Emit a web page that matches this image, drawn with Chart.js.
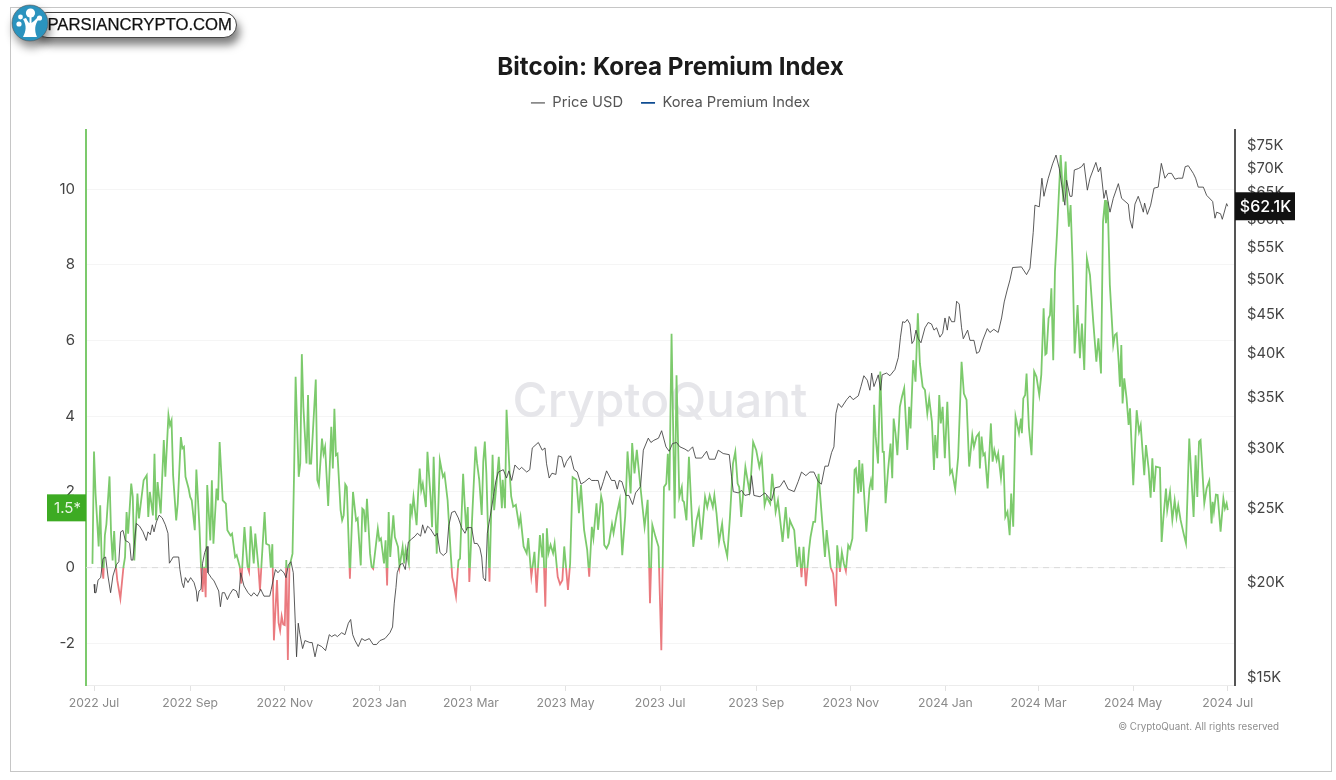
<!DOCTYPE html>
<html>
<head>
<meta charset="utf-8">
<title>Bitcoin: Korea Premium Index</title>
<script src="https://cdn.jsdelivr.net/npm/chart.js@4"></script>
<style>
  html, body { margin: 0; padding: 0; background: #fff; }
  #frame { position: absolute; left: 10px; top: 7px; width: 1320px; height: 763px; border: 1.5px solid #c6c6c6; }
  #chart { position: absolute; left: 0; top: 0; filter: blur(0.3px); }
  #logoPill {
    position: absolute; left: 34px; top: 12px; width: 197px; height: 24px;
    background: #fff; border: 1px solid #444; border-radius: 13px;
    box-shadow: 3px 7px 9px rgba(0,0,0,.5);
    font: 16.7px "Liberation Sans", Arial, sans-serif; color: #111; line-height: 24px;
    -webkit-text-stroke: 0.25px #111;
    text-align: right; padding-right: 4px; box-sizing: content-box; white-space: nowrap;
  }
  #logoIcon { position: absolute; left: 11px; top: 4px; filter: drop-shadow(2px 6px 5px rgba(0,0,0,.45)); }
</style>
</head>
<body>
<div id="frame"></div>
<canvas id="chart" width="1336" height="780"></canvas>
<div id="logoPill">PARSIANCRYPTO.COM</div>
<svg id="logoIcon" width="38" height="38" viewBox="0 0 38 38">
  <circle cx="19" cy="19" r="18" fill="#2b93be" stroke="#555" stroke-width=".6"/>
  <path d="M12 33 C15 27 16 22 12 15 L15 14 C17 18 18 19 18.5 19 L18.5 12 L20.5 12 L20.5 19 C22 18 24 16 26 14 L27.5 15.5 C24 20 23 26 26 33 Z" fill="#fff"/>
  <circle cx="19.5" cy="9" r="4.6" fill="#fff"/>
  <circle cx="28.5" cy="14" r="2.6" fill="#fff"/>
  <circle cx="9.5" cy="13" r="2.4" fill="#fff"/>
  <circle cx="8" cy="20" r="2.6" fill="#fff"/>
</svg>
<script>
const monthTickDays = [0, 62, 123, 184, 243, 304, 365, 427, 488, 549, 609, 670, 731];
const monthLabels = ['2022 Jul', '2022 Sep', '2022 Nov', '2023 Jan', '2023 Mar', '2023 May', '2023 Jul', '2023 Sep', '2023 Nov', '2024 Jan', '2024 Mar', '2024 May', '2024 Jul'];
const premiumTicks = [-2, 0, 2, 4, 6, 8, 10];
const priceTicks = [15, 20, 25, 30, 35, 40, 45, 50, 55, 60, 65, 70, 75];

// days since 2022-07-01
const premiumDays = [
  -1, 0, 1, 3, 4, 5, 6, 7, 8, 10,
  11, 12, 13, 14, 15, 17, 19, 20, 21, 22,
  24, 25, 26, 28, 29, 32, 34, 35, 36, 38,
  39, 40, 41, 43, 45, 46, 48, 49, 50, 51,
  53, 54, 56, 57, 58, 59, 61, 62, 63, 65,
  66, 68, 69, 70, 71, 72, 73, 75, 76, 77,
  79, 80, 81, 83, 85, 86, 88, 89, 91, 92,
  94, 95, 97, 99, 100, 101, 103, 104, 106, 107,
  110, 111, 113, 114, 115, 116, 118, 119, 120, 121,
  122, 123, 124, 125, 126, 128, 129, 130, 132, 133,
  134, 135, 137, 138, 139, 140, 143, 144, 145, 147,
  148, 149, 151, 153, 154, 155, 156, 157, 159, 160,
  161, 162, 163, 165, 167, 169, 170, 172, 173, 174,
  175, 176, 178, 179, 180, 183, 184, 185, 187, 188,
  189, 190, 191, 193, 194, 196, 197, 199, 200, 201,
  203, 204, 205, 206, 208, 209, 210, 211, 212, 214,
  215, 217, 218, 219, 221, 223, 225, 226, 228, 230,
  231, 232, 233.4, 235, 236, 238, 239, 240, 241, 242,
  244, 246, 247, 248.4, 250, 251, 252, 253, 255, 257,
  258, 259.5, 261, 263, 263.5, 265, 266, 268, 269, 270.3,
  272, 274, 275, 277, 279, 280, 282, 284, 285.4, 287.5,
  289, 289.5, 291, 292, 293, 294.4, 296, 297, 299, 300.5,
  302, 303.2, 305.6, 307, 308.6, 311, 312.7, 314, 316, 318,
  319.3, 321, 322, 324, 325, 327, 328, 329, 330.5, 332,
  334, 335, 337, 339, 340.6, 342.5, 344, 346, 347, 348.5,
  350, 352, 355, 357, 358.5, 360, 362, 364, 365.8, 367.5,
  369, 370, 371, 372.4, 374.4, 375.6, 377.4, 379, 379.5, 380.4,
  382, 383.6, 386.4, 388.5, 390, 391.6, 394, 395.4, 397, 399,
  400, 401.4, 403, 405, 406, 408.3, 410, 412, 413.5, 415,
  416, 417.3, 420, 422.5, 423.6, 425, 427, 429, 430.5, 432.4,
  433.7, 436, 437.3, 439.5, 441, 444, 446, 447.6, 448.7, 450,
  451.5, 453.4, 454.7, 456.2, 457.5, 459, 461, 462, 463.8, 465,
  467.2, 469, 471.3, 472.4, 475, 476.6, 478.4, 479.2, 481, 482.2,
  483.5, 484.8, 486.3, 487.4, 489, 490.4, 491.3, 492.8, 493.4, 494.5,
  495.4, 496.4, 498, 500, 501, 502, 503, 504, 505.5, 507,
  508.5, 509.3, 510.4, 512, 513.6, 514.7, 515.6, 516.8, 518, 519.6,
  521, 522.4, 524.4, 525.6, 526.5, 528.2, 529.7, 531.2, 532.5, 534.3,
  535.8, 537.3, 538.5, 540.3, 541.6, 542.4, 543.7, 545, 546, 547.2,
  548.6, 550.2, 552, 553.2, 555.3, 557.2, 559.4, 560.9, 562.6, 564.3,
  566.3, 567.4, 569, 570.6, 571.2, 572.3, 573.4, 574.4, 576.2, 578.3,
  579.4, 580.5, 582, 583, 584.8, 586.3, 587.6, 589, 590.4, 591.4,
  592.7, 594.2, 596.4, 597.7, 598.3, 599.2, 600.4, 601.3, 602.8, 604.5,
  606.2, 607.7, 609.5, 610.8, 612.3, 613.4, 614.2, 615.5, 616.4, 617.3,
  618.5, 619.6, 621, 623.3, 625, 626.5, 627.6, 628.6, 629.7, 631,
  632.3, 634.2, 635.7, 637, 638.5, 640.2, 642.2, 644.3, 646.3, 647.6,
  649.3, 650.6, 651.9, 652.5, 653.6, 655, 657.2, 658.3, 659.4, 660.7,
  661.5, 662.4, 663.2, 664.3, 665.8, 667.1, 668, 670.1, 672.3, 673.8,
  674.9, 677.2, 678.3, 680, 681.3, 682.4, 683.5, 684.7, 687.3, 688.4,
  689.5, 691.2, 692, 693.8, 695.3, 696.8, 698, 699.1, 700.6, 702.8,
  704.1, 706.2, 709, 710.3, 711.4, 712.5, 713.5, 715.9, 717.4, 719.1,
  720.6, 721.3, 722.1, 723.4, 724.5, 726.4, 728.2, 729.2, 730.3, 731
];
const premiumValues = [
  0.1, 3.07, 1.96, 0.56, 1.65, 0.1, -0.29, 0.85, 1.15, 2.41,
  0.9, 0.19, 0.97, 0.1, -0.33, -0.82, 0.02, 0.28, 1.47, 0.9,
  2.22, 1.87, 0.19, 1.96, 1.3, 2.31, 2.44, 1.34, 2, 1.38,
  3.01, 1.25, 2.26, 1.43, 3.37, 2.4, 4.03, 3.76, 3.89, 2.44,
  1.25, 1.69, 3.45, 3.15, 3.19, 2.4, 2.09, 1.87, 1.78, 0.99,
  2.59, 1.07, 0.02, -0.64, 0.02, -0.78, 2.18, 0.72, 2.31, 0.63,
  2.09, 1.78, 3.32, 1.78, 1.69, 0.99, 0.85, 0.9, 0.28, 0.33,
  0.02, -0.42, 1.07, 0.02, -0.11, 1.09, 0.11, 0.9, 0.02, -0.6,
  1.47, 0.63, 0.59, 0, 0.62, -1.92, -0.33, -1.45, -1.66, -1.28,
  -1.5, -1.52, 0.2, -2.44, 0.02, 0.37, 2.48, 5.04, 2.4, 2.75,
  5.64, 4.25, 2.75, 4.56, 2.75, 2.75, 4.97, 2.31, 2.18, 3.41,
  3.01, 3.19, 1.63, 3.72, 2.62, 4.2, 2.97, 3.01, 1.52, 1.25,
  1.38, 2.2, 2.13, -0.29, 2, 1.25, 1.3, 0.06, 1.56, 1.52,
  0.94, 1.82, 0.37, 0.02, -0.03, 1.03, 0.72, 0.77, 0.11, 0.72,
  -0.47, 1.47, 0.28, 1.38, 0.81, 0.55, 0.02, 0.55, 0.11, 0.5,
  0.11, 1.69, 1.43, 1.87, 1.12, 1.96, 2.62, 2.04, 2.22, 1.6,
  3.06, 1.87, 1.07, 2.93, 0.37, 2.84, 2.4, 2.48, 1.78, 0.37,
  -0.25, -0.42, -0.76, 0.19, 0.24, 2.48, 1.69, 0.99, 1.6, -0.38,
  1.48, 3.2, 2.76, 2.32, 1.39, 2.8, 3.33, 2.49, -0.37, 2.98,
  1.52, 2.2, 2.93, 1.57, 2.32, 1.57, 4.17, 2.49, 1.88, 1.61,
  1.66, 1.13, 1.35, 0.56, 0.38, 0.78, -0.24, 0.42, -0.66, 0.86,
  0.29, 0.91, -1.03, 1.04, 0.38, 0.6, 0.38, 0.64, -0.24, -0.44,
  -0.33, 0.56, -0.59, 0.11, 2.39, 2.32, 1.44, 2.18, 1, 0.47,
  -0.24, 1.08, 0.78, 1.7, 1, 1.89, 1.7, 0.6, 0.51, 0.64,
  1.15, 0.91, 1.39, 1.78, 0.33, 1.35, 3.07, 1.96, 3.29, 2.49,
  3.11, 2.27, 1.08, 1.79, -0.94, 1.13, 0.82, 0.55, -2.18, 2.13,
  2.22, 3.01, 2.04, 6.18, 1.3, 5.08, 1.87, 2.13, 1.78, 1.74,
  1.25, 2.93, 0.55, 1.25, 1.52, 0.74, 1.87, 1.6, 1.91, 1.6,
  1.91, 1.43, 0.68, 1.16, 0.72, 0.3, 1.3, 2.75, 3.06, 2.22,
  2.13, 1.34, 2.66, 2.04, 2.4, 3.32, 3.1, 2.66, 2.93, 1.65,
  1.87, 1.69, 2.48, 1.47, 1.78, 0.68, 1.6, 0.77, 1.25, 1.12,
  0.99, 0.02, 0.55, -0.25, 0.55, -0.49, 0.46, 0.81, 1.21, 1.21,
  2.48, 1.5, 0.28, 0.99, 0, -0.16, -1.02, 0.59, -0.11, 0.41,
  0.11, -0.09, 0.59, 0.5, 0.77, 2.58, 2.62, 1.96, 2.84, 2,
  2.75, 2.05, 0.95, 2.09, 2.31, 2.05, 4.3, 3.46, 2.75, 5.18,
  3.06, 3.06, 1.7, 2.58, 3.28, 2.36, 3.94, 3.55, 2.97, 4.25,
  4.52, 4.74, 3.11, 4.25, 3.68, 5.48, 4.91, 6.72, 5.4, 4.78,
  4.69, 4.07, 4.47, 3.85, 2.58, 3.5, 2.89, 4.56, 3.81, 4.25,
  2.89, 4.38, 2.49, 2.58, 2.07, 2.93, 5.44, 4.6, 4.43, 2.67,
  3.5, 3.19, 3.46, 3.55, 2.62, 3.46, 2.97, 3.02, 2.09, 3.81,
  2.8, 3.11, 2.84, 3.02, 2.36, 2.97, 1.34, 1.48, 0.86, 1.96,
  1.08, 3.99, 3.55, 3.94, 3.55, 4.47, 4.56, 5.13, 3.72, 2.97,
  5.18, 5.04, 4.56, 5.1, 6.85, 5.63, 5.66, 6.59, 6.67, 7.38,
  5.48, 7.82, 8.88, 10.9, 9.67, 10.73, 9.67, 9.01, 9.58, 8,
  5.66, 6.94, 5.53, 6.45, 5.22, 8.17, 7.73, 6.5, 5.44, 6.06,
  5.13, 9.14, 9.71, 9.1, 9.67, 7.47, 5.88, 6.15, 6.19, 5.44,
  4.78, 5.88, 4.34, 5, 4.47, 3.77, 4.21, 2.18, 4.16, 3.59,
  3.77, 2.44, 3.24, 2.62, 1.85, 2.89, 2, 2.67, 2.64, 0.68,
  1.3, 2.09, 1.52, 2, 1.26, 1.78, 1.34, 1.65, 1.26, 0.86,
  0.64, 3.41, 1.34, 2.97, 1.87, 3.33, 3.37, 1.7, 2.09, 2.29,
  1.17, 1.74, 1.48, 1.93, 1.92, 0.95, 1.83, 1.56, 1.7, 1.52
];

const priceDays = [
  0, 0.5, 1.3, 2.6, 4.3, 5.8, 7.5, 9, 10.7, 12.2,
  14.4, 16, 17.2, 18.7, 20.2, 22, 23, 24, 25, 27.3,
  29.4, 31.6, 33.7, 34.8, 36.3, 37.6, 38.7, 40.2, 42, 44,
  46, 47.7, 48.6, 49.9, 51, 54.6, 55.4, 56.7, 57.8, 58.9,
  60.6, 62.3, 64.5, 66, 66.6, 67.7, 69, 70, 71.4, 72.9,
  73.5, 75.6, 77.4, 78.9, 80.4, 81.5, 82.7, 84.2, 86, 87.5,
  89.6, 91.8, 93.3, 94.6, 96.7, 99.3, 101.4, 103, 105.3, 107.5,
  109.6, 113.3, 114.3, 115.4, 117, 118.6, 120.4, 122.5, 123.8, 125.3,
  127, 128.5, 129.8, 130.6, 131.7, 132.8, 134.5, 136, 139.2, 140.7,
  142.5, 144.2, 146.8, 149.3, 151.7, 153.2, 155.4, 156.9, 159.7, 161.8,
  164, 165.5, 166.8, 168.3, 170.4, 172.6, 174.7, 177.5, 180, 182.2,
  184.4, 187.6, 190.8, 192.5, 193.6, 194.7, 195.5, 197.3, 199, 200.7,
  201.6, 202.7, 204.8, 207, 208.5, 210.6, 211.9, 213.4, 215.1, 217,
  219.8, 221.3, 223.1, 225.2, 227.4, 228.7, 230.6, 232.7, 234.9, 237,
  239.2, 240.7, 243.5, 245.2, 247.1, 248.8, 250, 251, 252.5, 253.6,
  255.3, 257.5, 259.2, 260.7, 263.9, 266, 267.5, 269.3, 271.4, 274.2,
  275.7, 279, 281, 282.6, 286.5, 289, 290.8, 291.8, 293.5, 295.3,
  297.8, 299.4, 301.5, 303.2, 304.7, 307.3, 309.5, 311.6, 314, 316.5,
  319.3, 320.8, 323.6, 325.1, 326.6, 328.4, 330.5, 333.7, 335.9, 337.4,
  338.7, 340.4, 343, 344.9, 347.3, 349.2, 352.4, 354.2, 357.4, 359.1,
  361, 364, 366, 368.8, 370.9, 373, 375.6, 377.8, 381, 383.2,
  386, 387.9, 391.8, 395, 396.7, 400.4, 402.5, 405.7, 409.6, 411.1,
  412.2, 415.4, 417.6, 419.7, 422.9, 424, 425.5, 429.4, 432.6, 436.9,
  439, 442.3, 444.9, 447.6, 451.5, 454, 456.2, 459, 461.6, 464.2,
  467, 469, 471.3, 473.4, 475.6, 477.1, 478.4, 479.9, 482, 485.3,
  487.4, 489.5, 492.8, 494.5, 496.4, 498.6, 500.3, 501.4, 502.9, 505.7,
  507.2, 508.2, 511, 513.2, 516.4, 518.6, 520, 521.4, 522.9, 524.4,
  526.1, 527.4, 528.7, 530, 531.5, 533.2, 535.8, 537.9, 540, 541.6,
  543.3, 545.4, 547.2, 548.7, 550.2, 551.4, 553, 554.9, 556.2, 557.9,
  559.4, 560.5, 563.3, 564.8, 567.4, 569.1, 570.8, 573, 576, 577.7,
  580.2, 583, 585.2, 586.9, 588.8, 590.6, 592.3, 598, 601.3, 603.5,
  605.6, 606.7, 609.5, 611.2, 612.5, 615.3, 618.1, 620.3, 622.4, 624.3,
  626, 627.1, 629.3, 630.6, 632.1, 634.7, 636.8, 638.3, 640.5, 642.2,
  646, 647.6, 649, 651.2, 652.5, 655.1, 657.2, 660.5, 662.6, 666.9,
  668, 669.5, 671.2, 673.3, 674.9, 676.6, 677.4, 679.2, 681.3, 683.5,
  686.2, 688.2, 690.5, 692.7, 694.8, 697, 699.1, 701.9, 703.6, 705.6,
  708.8, 710.3, 712, 715.3, 717.4, 721.3, 722.8, 723.9, 726.4, 727.5,
  730.3, 731
];
// USD thousands
const priceValues = [
  19.8, 19.3, 19.3, 20.05, 20.2, 21.4, 21.5, 20.3, 19.3, 20.3,
  21, 21.2, 23.2, 23.3, 22.6, 22.5, 22.4, 21.3, 21.3, 23.8,
  23.6, 23.2, 22.6, 23.2, 23, 23.7, 23.2, 23.9, 24.4, 24.2,
  23.7, 23.1, 21.1, 21.3, 21.5, 21.5, 20.7, 19.9, 19.6, 20.2,
  19.9, 20.2, 19.9, 19.4, 18.8, 19.4, 19.5, 21.1, 21.8, 22.2,
  20.5, 20.2, 20, 19.7, 19.4, 18.5, 19.3, 19.3, 18.9, 19.2,
  19.5, 19.4, 19, 20.5, 19.7, 19.3, 19.1, 19.3, 19.1, 19.5,
  19.1, 19.1, 19.5, 20, 20.7, 20.5, 20.7, 20.5, 20.2, 21,
  21.2, 20.5, 17.6, 15.9, 17.6, 17, 16.3, 16.7, 16.6, 16.6,
  15.9, 16.5, 16.4, 16.2, 17, 16.9, 17, 16.9, 17.1, 17,
  17.6, 17.8, 17, 16.7, 16.4, 16.8, 16.7, 16.8, 16.5, 16.5,
  16.7, 16.8, 17.1, 17.4, 18.7, 19.6, 20.5, 21, 21.1, 20.7,
  21.5, 22.5, 22.7, 22.9, 23.1, 22.9, 23.7, 23.1, 23.6, 23.4,
  22.9, 23.1, 21.8, 21.6, 21.8, 23.6, 24.6, 24.7, 24.2, 23.5,
  23.1, 23.5, 23.5, 22.4, 22.4, 22.1, 21.5, 20.2, 20, 23.1,
  24.2, 25.8, 27.1, 27.8, 28, 27.3, 27.9, 27.1, 28.4, 28,
  28.2, 27.8, 28, 29.9, 30.4, 29.7, 29.9, 28.5, 27.3, 27.7,
  27.6, 29.2, 29.1, 28.2, 28.7, 29.2, 28, 27.8, 26.8, 27,
  27.3, 27.1, 27.1, 27.1, 26.3, 27, 27.9, 27.1, 27.1, 26.4,
  27.1, 27, 25.9, 25.9, 25.2, 26.1, 26.6, 29.7, 30.8, 30.4,
  30.6, 30.8, 31.5, 30, 29.6, 30.3, 30.4, 30, 29.8, 29.6,
  30, 29, 29, 29.6, 28.9, 28.9, 29.7, 29.4, 29.3, 27.4,
  26.2, 26.1, 26.3, 25.9, 26, 27.5, 25.9, 25.8, 26.1, 25.5,
  26.5, 26.6, 27.1, 26.4, 26.2, 27, 27.8, 27.5, 27.8, 27.8,
  27, 26.8, 28.3, 28.3, 29.5, 30, 33.2, 34.2, 33.8, 34.6,
  35, 34.6, 35, 36, 37.2, 36.7, 35.6, 37.5, 36, 37.3,
  35.6, 37.3, 37.5, 37.2, 37.9, 39.3, 41.8, 43.8, 43.7, 44.1,
  43.5, 41, 41.4, 42.7, 41.6, 41.1, 43, 43.7, 43.5, 42.7,
  43, 41.8, 42.3, 44.3, 42.7, 44.5, 43.8, 43.8, 46.6, 46.2,
  43, 41.6, 42.7, 41.4, 41.4, 39.8, 40, 41.4, 42.9, 42.4,
  42.8, 42.4, 44.3, 46.5, 48.2, 49.7, 51.6, 51.7, 50.5, 51.5,
  57.4, 62.3, 62, 67.6, 64, 67.6, 70.6, 72.5, 69.6, 65.6,
  62.3, 67.2, 64, 64, 69.3, 69.6, 70, 70.7, 65.2, 67.6,
  70.9, 68.9, 69.9, 63.6, 65.2, 61, 63.6, 66.5, 63.6, 62.5,
  59.6, 58.1, 62.5, 64, 62.6, 61, 62.7, 60.6, 62.3, 65.6,
  65.8, 70.7, 67.6, 68.6, 68.6, 67.4, 67.6, 67.6, 70, 70.2,
  68.6, 67.6, 65.8, 65.8, 64.2, 63, 59.9, 61, 60.7, 59.7,
  62.6, 62.1
];

const zeroLineDays = [-5.16, 731];
const zeroLineValues = [0, 0];
const priceTagValue = 62.1;
const premiumTagValue = 1.58;

const greenLine = '#7cca6c';
const redLine = '#ea7a7f';
const fontFamily = 'Inter, "Noto Sans", sans-serif';

// Helper to zip the day and value lists for the library.
function toPoints(days, values) {
  return days.map((d, i) => ({ x: d, y: values[i] }));
}

// Green above zero, red below, with a hard stop on the zero line.
function premiumLineColor(ctx) {
  const { chart } = ctx;
  const { chartArea, scales } = chart;
  if (!chartArea) return greenLine;
  const gradient = chart.ctx.createLinearGradient(0, chartArea.top, 0, chartArea.bottom);
  const stop = (scales.y.getPixelForValue(0) - chartArea.top) / (chartArea.bottom - chartArea.top);
  gradient.addColorStop(0, greenLine);
  gradient.addColorStop(stop, greenLine);
  gradient.addColorStop(stop, redLine);
  gradient.addColorStop(1, redLine);
  return gradient;
}

function setTicks(values) {
  return (scale) => { scale.ticks = values.map(value => ({ value })); };
}

// Watermark sits behind the lines.
const watermarkPlugin = {
  id: 'watermark',
  beforeDatasetsDraw(chart) {
    const c = chart.ctx;
    c.save();
    c.font = `500 48px ${fontFamily}`;
    c.fillStyle = '#e6e6ea';
    c.textAlign = 'center';
    c.textBaseline = 'middle';
    c.fillText('CryptoQuant', 660, 403);
    c.restore();
  },
};

// Last-value tags on both axes and the copyright line.
const tagsPlugin = {
  id: 'tags',
  afterDraw(chart) {
    const c = chart.ctx;
    const { y, yPrice } = chart.scales;
    c.save();
    c.textAlign = 'center';
    c.textBaseline = 'middle';

    const priceY = yPrice.getPixelForValue(priceTagValue);
    c.fillStyle = '#111';
    c.fillRect(1235, priceY - 14, 60, 28);
    c.fillStyle = '#fff';
    c.font = `500 16px ${fontFamily}`;
    c.fillText('$62.1K', 1265.5, priceY + 1);

    const premiumY = y.getPixelForValue(premiumTagValue);
    c.fillStyle = '#3dab23';
    c.fillRect(47, premiumY - 13.5, 39, 27);
    c.fillStyle = '#e8f5e4';
    c.font = `400 15px ${fontFamily}`;
    c.fillText('1.5*', 67.5, premiumY + 1);

    c.textAlign = 'right';
    c.fillStyle = '#8d8d8d';
    c.font = `400 9.8px ${fontFamily}`;
    c.fillText('© CryptoQuant. All rights reserved', 1279, 727);
    c.restore();
  },
};

new Chart(document.getElementById('chart').getContext('2d'), {
  type: 'line',
  data: {
    datasets: [
      {
        label: 'Price USD',
        data: toPoints(priceDays, priceValues),
        yAxisID: 'yPrice',
        borderColor: 'rgba(62, 62, 62, 0.85)',
        borderWidth: 1,
        legendColor: '#8a8a8a',
      },
      {
        label: 'Korea Premium Index',
        data: toPoints(premiumDays, premiumValues),
        yAxisID: 'y',
        borderColor: premiumLineColor,
        borderWidth: 1.8,
        legendColor: '#0f4c92',
      },
      {
        label: 'zero',
        data: toPoints(zeroLineDays, zeroLineValues),
        yAxisID: 'y',
        borderColor: '#d9d9d9',
        borderWidth: 1,
        borderDash: [6, 5],
      },
    ],
  },
  options: {
    responsive: false,
    animation: false,
    devicePixelRatio: 1,
    elements: { point: { radius: 0 }, line: { tension: 0 } },
    layout: { padding: { left: 43, right: 38, top: 0, bottom: 55 } },
    plugins: {
      tooltip: { enabled: false },
      title: {
        display: true,
        text: 'Bitcoin: Korea Premium Index',
        color: '#1b1b1b',
        font: { family: fontFamily, size: 24.2, weight: '700', lineHeight: 1.2 },
        padding: { top: 53, bottom: -4.5 },
      },
      // Blank spacer below the legend, keeps the plot top at the right height
      subtitle: {
        display: true,
        text: ' ',
        weight: 500,
        font: { size: 1, lineHeight: 1 },
        padding: { top: 0, bottom: 8.8 },
      },
      legend: {
        display: true,
        labels: {
          color: '#555',
          font: { family: fontFamily, size: 14.7 },
          usePointStyle: true,
          pointStyleWidth: 14,
          padding: 18,
          generateLabels(chart) {
            return chart.data.datasets.filter(d => d.legendColor).map((d, i) => ({
              text: d.label,
              pointStyle: 'line',
              strokeStyle: d.legendColor,
              fillStyle: d.legendColor,
              fontColor: '#555',
              lineWidth: 1.6,
              datasetIndex: i,
            }));
          },
        },
      },
    },
    scales: {
      x: {
        type: 'linear',
        min: -5.16,
        max: 735.7,
        afterBuildTicks: setTicks(monthTickDays),
        afterFit(scale) { scale.height = 40; },
        border: { color: '#ececec', width: 1 },
        grid: { drawOnChartArea: false, drawTicks: true, tickLength: 6, tickColor: '#e2e2e2' },
        ticks: {
          color: '#8a8a8a',
          font: { family: fontFamily, size: 12.2 },
          maxRotation: 0,
          autoSkip: false,
          padding: 5,
          callback: (value, index) => monthLabels[index],
        },
      },
      y: {
        position: 'left',
        min: -3.1,
        max: 11.56,
        afterBuildTicks: setTicks(premiumTicks),
        afterFit(scale) { scale.width = 43; },
        border: { color: greenLine, width: 2 },
        grid: { color: '#f5f5f5', drawTicks: false },
        ticks: {
          color: '#444',
          font: { family: fontFamily, size: 15 },
          padding: 11,
          autoSkip: false,
        },
      },
      yPrice: {
        type: 'logarithmic',
        position: 'right',
        min: 14.6,
        max: 78.2,
        afterBuildTicks: setTicks(priceTicks),
        afterFit(scale) { scale.width = 63; },
        border: { color: '#555', width: 2 },
        grid: { drawOnChartArea: false, drawTicks: false },
        ticks: {
          color: '#444',
          font: { family: fontFamily, size: 14.7 },
          padding: 12,
          labelOffset: 1.5,
          autoSkip: false,
          callback: (value) => `$${value}K`,
        },
      },
    },
  },
  plugins: [watermarkPlugin, tagsPlugin],
});
</script>
</body>
</html>
